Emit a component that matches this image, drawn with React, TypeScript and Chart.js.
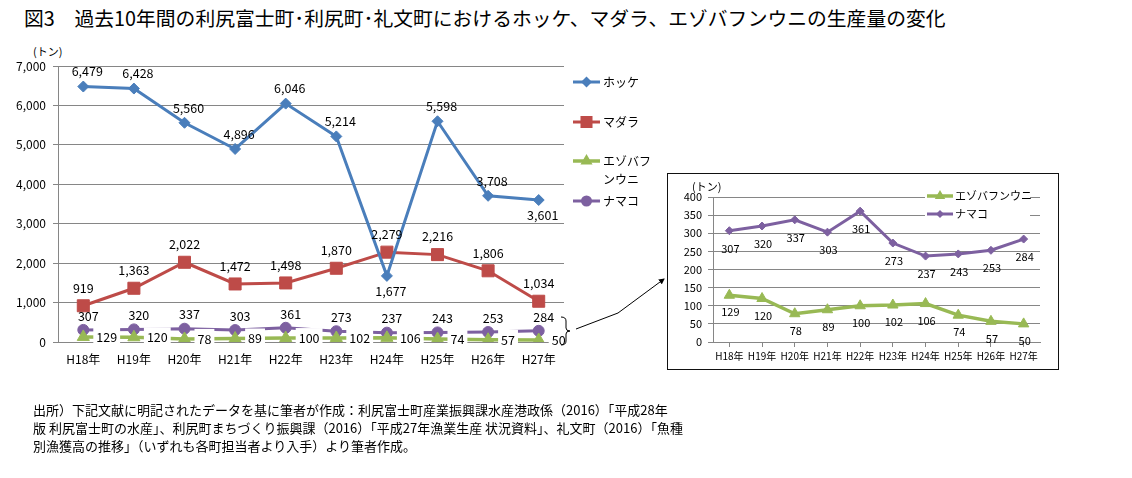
import React, { useEffect, useRef } from 'react';
import { Chart, registerables } from 'chart.js';

Chart.register(...registerables);

// ---------- data ----------
const categories = ['H18年', 'H19年', 'H20年', 'H21年', 'H22年', 'H23年', 'H24年', 'H25年', 'H26年', 'H27年'];
const hokke = [6479, 6428, 5560, 4896, 6046, 5214, 1677, 5598, 3708, 3601];
const madara = [919, 1363, 2022, 1472, 1498, 1870, 2279, 2216, 1806, 1034];
const uni = [129, 120, 78, 89, 100, 102, 106, 74, 57, 50];
const namako = [307, 320, 337, 303, 361, 273, 237, 243, 253, 284];
const seriesNames = ['ホッケ', 'マダラ', 'エゾバフンウニ', 'ナマコ'];
const mainYMax = 7000;
const mainYStep = 1000;
const insetYMax = 400;
const insetYStep = 50;

// ---------- styles ----------
const FONT = '"Noto Sans CJK JP", "Noto Sans", sans-serif';
const GRID = '#868686';
const C_HOKKE = '#4A7EBB';
const C_MADARA = '#BE4B48';
const C_UNI = '#98B954';
const C_NAMAKO = '#7D60A0';

const fmt = (v: number) => Number(v).toLocaleString('en-US');

function drawMarker(ctx: CanvasRenderingContext2D, style: string, x: number, y: number, r: number) {
  ctx.beginPath();
  if (style === 'circle') {
    ctx.arc(x, y, r, 0, Math.PI * 2);
  } else if (style === 'rect') {
    const s = Math.SQRT1_2 * r;
    ctx.rect(x - s, y - s, 2 * s, 2 * s);
  } else if (style === 'rectRot') {
    ctx.moveTo(x, y - r);
    ctx.lineTo(x + r, y);
    ctx.lineTo(x, y + r);
    ctx.lineTo(x - r, y);
    ctx.closePath();
  } else if (style === 'triangle') {
    let rad = 0;
    ctx.moveTo(x + Math.sin(rad) * r, y - Math.cos(rad) * r);
    rad += (2 * Math.PI) / 3;
    ctx.lineTo(x + Math.sin(rad) * r, y - Math.cos(rad) * r);
    rad += (2 * Math.PI) / 3;
    ctx.lineTo(x + Math.sin(rad) * r, y - Math.cos(rad) * r);
    ctx.closePath();
  }
  ctx.fill();
}

const valueLabels = {
  id: 'valueLabels',
  afterDatasetsDraw(chart: any, _args: any, opts: any) {
    const ctx = chart.ctx as CanvasRenderingContext2D;
    const sets = opts.sets || [];
    chart.data.datasets.forEach((ds: any, i: number) => {
      const cfg = sets[i];
      if (!cfg) return;
      const meta = chart.getDatasetMeta(i);
      ctx.save();
      ctx.font = opts.font;
      ctx.textBaseline = 'middle';
      meta.data.forEach((pt: any, j: number) => {
        const text = fmt(ds.data[j]);
        const flip = cfg.flip && cfg.flip.includes(j);
        const dx = flip ? cfg.fdx : cfg.dx;
        const dy = flip ? cfg.fdy : cfg.dy;
        const x = pt.x + dx;
        const y = pt.y + dy;
        const align = cfg.align || 'center';
        ctx.textAlign = align;
        if (cfg.box) {
          const w = ctx.measureText(text).width;
          const left = align === 'left' ? x - 3 : x - w / 2 - 3;
          ctx.fillStyle = '#fff';
          ctx.fillRect(left, y - 10, w + 6, 20);
        }
        ctx.fillStyle = '#000';
        ctx.fillText(text, x, y);
      });
      ctx.restore();
    });
  },
};

const boxLegend = {
  id: 'boxLegend',
  afterDraw(chart: any, _args: any, opts: any) {
    const ctx = chart.ctx as CanvasRenderingContext2D;
    ctx.save();
    if (opts.bg) {
      ctx.fillStyle = '#fff';
      ctx.fillRect(opts.bg.x, opts.bg.y, opts.bg.w, opts.bg.h);
    }
    (opts.items || []).forEach((it: any) => {
      const ds = chart.data.datasets[it.ds];
      ctx.strokeStyle = ds.borderColor;
      ctx.lineWidth = ds.borderWidth;
      ctx.beginPath();
      ctx.moveTo(opts.x0, it.y);
      ctx.lineTo(opts.x1, it.y);
      ctx.stroke();
      ctx.fillStyle = ds.pointBackgroundColor;
      drawMarker(ctx, ds.pointStyle, (opts.x0 + opts.x1) / 2, it.y, ds.pointRadius);
      ctx.fillStyle = '#000';
      ctx.font = opts.font;
      ctx.textAlign = 'left';
      ctx.textBaseline = 'middle';
      it.lines.forEach((ln: string, k: number) => {
        ctx.fillText(ln, opts.textX, it.y + k * opts.lineH);
      });
    });
    ctx.restore();
  },
};

export default function App() {
  const mainRef = useRef<HTMLCanvasElement>(null);
  const insetRef = useRef<HTMLCanvasElement>(null);

  useEffect(() => {
    const mk = (label: string, data: number[], color: string, style: string, r: number, w = 3) => ({
      label,
      data,
      borderColor: color,
      backgroundColor: color,
      pointBackgroundColor: color,
      pointBorderColor: color,
      pointStyle: style,
      pointRadius: r,
      pointBorderWidth: 1,
      borderWidth: w,
      tension: 0,
      fill: false,
    });

    const main = new Chart(mainRef.current!, {
      type: 'line',
      data: {
        labels: categories,
        datasets: [
          mk(seriesNames[0], hokke, C_HOKKE, 'rectRot', 5.5),
          mk(seriesNames[1], madara, C_MADARA, 'rect', 8.5),
          mk(seriesNames[2], uni, C_UNI, 'triangle', 7, 3.5),
          mk(seriesNames[3], namako, C_NAMAKO, 'circle', 5.5),
        ] as any,
      },
      options: {
        animation: false,
        responsive: false,
        maintainAspectRatio: false,
        layout: { padding: { top: 66, right: 96, bottom: 0, left: 0 } },
        plugins: {
          legend: { display: false },
          tooltip: { enabled: false },
          valueLabels: {
            font: `12.5px ${FONT}`,
            sets: [
              { dx: 4, dy: -15, flip: [6, 9], fdx: 4, fdy: 15 },
              { dx: 0, dy: -18 },
              { dx: 13, dy: 0, align: 'left', box: true },
              { dx: 5, dy: -14 },
            ],
          },
          boxLegend: {
            x0: 573,
            x1: 600,
            textX: 603,
            lineH: 18,
            font: `12px ${FONT}`,
            items: [
              { ds: 0, y: 82, lines: ['ホッケ'] },
              { ds: 1, y: 122, lines: ['マダラ'] },
              { ds: 2, y: 161, lines: ['エゾバフ', 'ンウニ'] },
              { ds: 3, y: 201, lines: ['ナマコ'] },
            ],
          },
        } as any,
        scales: {
          x: {
            offset: true,
            grid: { display: false, drawTicks: false },
            border: { display: true, color: GRID },
            ticks: { font: { family: FONT, size: 12 }, color: '#000', padding: 10, maxRotation: 0, autoSkip: false },
            afterFit: (s: any) => { s.height = 38; },
          },
          y: {
            min: 0,
            max: mainYMax,
            ticks: {
              stepSize: mainYStep,
              font: { family: FONT, size: 12 },
              color: '#000',
              padding: 7,
              callback: (v: any) => fmt(v),
            },
            grid: { color: GRID, tickLength: 5, drawTicks: true },
            border: { display: true, color: GRID },
            afterFit: (s: any) => { s.width = 58; },
          },
        } as any,
      },
      plugins: [valueLabels, boxLegend],
    });

    const inset = new Chart(insetRef.current!, {
      type: 'line',
      data: {
        labels: categories,
        datasets: [
          mk(seriesNames[2], uni, C_UNI, 'triangle', 6, 3.5),
          mk(seriesNames[3], namako, C_NAMAKO, 'rectRot', 4, 3),
        ] as any,
      },
      options: {
        animation: false,
        responsive: false,
        maintainAspectRatio: false,
        layout: { padding: { top: 23, right: 18, bottom: 0, left: 0 } },
        plugins: {
          legend: { display: false },
          tooltip: { enabled: false },
          valueLabels: {
            font: `11px ${FONT}`,
            sets: [
              { dx: 1, dy: 17 },
              { dx: 1, dy: 18 },
            ],
          },
          boxLegend: {
            bg: { x: 257, y: 13, w: 105, h: 37 },
            x0: 259,
            x1: 285,
            textX: 287,
            lineH: 14,
            font: `11px ${FONT}`,
            items: [
              { ds: 0, y: 22, lines: ['エゾバフンウニ'] },
              { ds: 1, y: 40, lines: ['ナマコ'] },
            ],
          },
        } as any,
        scales: {
          x: {
            offset: true,
            grid: { display: true, drawOnChartArea: false, drawTicks: true, tickLength: 5, color: GRID },
            border: { display: true, color: GRID },
            ticks: { font: { family: FONT, size: 10 }, color: '#000', padding: 3, maxRotation: 0, autoSkip: false },
            afterFit: (s: any) => { s.height = 27; },
          },
          y: {
            min: 0,
            max: insetYMax,
            ticks: {
              stepSize: insetYStep,
              font: { family: FONT, size: 11 },
              color: '#000',
              padding: 6,
            },
            grid: { color: GRID, tickLength: 5, drawTicks: true },
            border: { display: true, color: GRID },
            afterFit: (s: any) => { s.width = 45; },
          },
        } as any,
      },
      plugins: [valueLabels, boxLegend],
    });

    return () => {
      main.destroy();
      inset.destroy();
    };
  }, []);

  return (
    <div style={{ position: 'absolute', left: 0, top: 0, width: 1132, height: 478, background: '#fff', fontFamily: FONT, color: '#000' }}>
      <div style={{ position: 'absolute', left: 24, top: 5, fontSize: 19.8, lineHeight: '26px', whiteSpace: 'nowrap' }}>
        図3　過去10年間の利尻富士町･利尻町･礼文町におけるホッケ、マダラ、エゾバフンウニの生産量の変化
      </div>
      <div style={{ position: 'absolute', left: 33, top: 43, fontSize: 11, lineHeight: '16px', whiteSpace: 'nowrap' }}>(トン)</div>
      <canvas ref={mainRef} width={660} height={380} style={{ position: 'absolute', left: 0, top: 0, width: 660, height: 380 }} />
      <canvas ref={insetRef} width={390} height={195} style={{ position: 'absolute', left: 668, top: 174, width: 390, height: 195 }} />
      <div style={{ position: 'absolute', left: 692, top: 179, fontSize: 11, lineHeight: '14px', whiteSpace: 'nowrap' }}>(トン)</div>
      <div style={{ position: 'absolute', left: 667, top: 173, width: 392, height: 197, boxSizing: 'border-box', border: '1.5px solid #111', pointerEvents: 'none' }} />
      <svg width={1132} height={478} style={{ position: 'absolute', left: 0, top: 0, pointerEvents: 'none' }}>
        <defs>
          <marker id="ah" markerWidth="6" markerHeight="6" refX="5" refY="3" orient="auto" markerUnits="userSpaceOnUse">
            <path d="M0,0 L6,3 L0,6 Z" fill="#000" />
          </marker>
        </defs>
        <path d="M 561 317 Q 566 317 566 321 L 566 328 Q 566 331 570 331 Q 566 331 566 334 L 566 341 Q 566 345 561 345" stroke="#000" strokeWidth={1} fill="none" />
        <polyline points="576,329 618,313 664,279" stroke="#000" strokeWidth={1} fill="none" markerEnd="url(#ah)" />
      </svg>
      <div style={{ position: 'absolute', left: 33, top: 401, fontSize: 13, lineHeight: '18px', whiteSpace: 'nowrap' }}>
        出所）下記文献に明記されたデータを基に筆者が作成：利尻富士町産業振興課水産港政係（2016）「平成28年<br />
        版 利尻富士町の水産」、利尻町まちづくり振興課（2016）「平成27年漁業生産 状況資料」、礼文町（2016）「魚種<br />
        別漁獲高の推移」（いずれも各町担当者より入手）より筆者作成。
      </div>
    </div>
  );
}
